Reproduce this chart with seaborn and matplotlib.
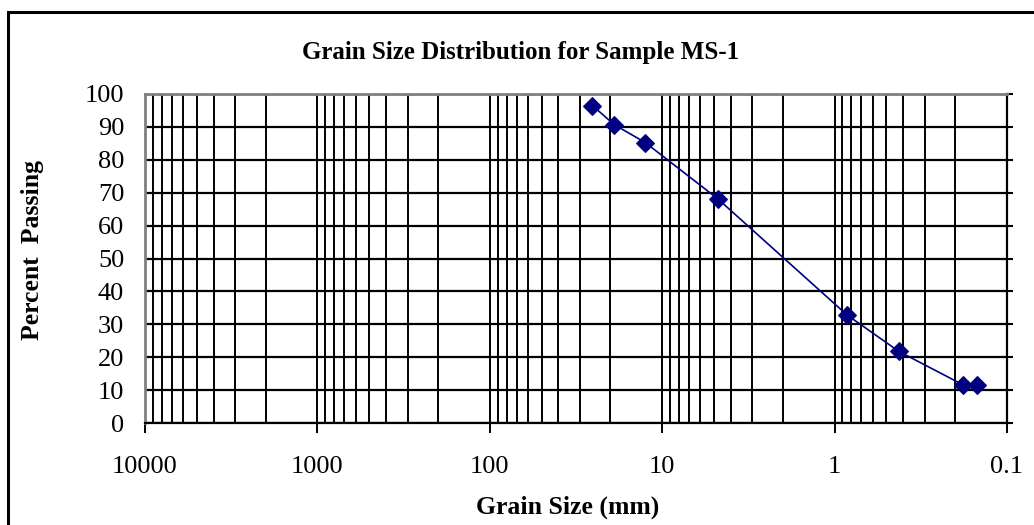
import matplotlib
matplotlib.use("Agg")
import matplotlib.pyplot as plt
import matplotlib.ticker as mticker
from matplotlib.patches import Rectangle
import seaborn as sns
import pandas as pd
import numpy as np

# ---- data ----
grain_size_mm = [25.4, 19.0, 12.5, 4.75, 0.85, 0.425, 0.18, 0.15]
percent_passing = [96.5, 90.7, 85.2, 68.1, 32.9, 21.8, 11.6, 11.6]
x_tick_values = [10000, 1000, 100, 10, 1, 0.1]
x_tick_labels = ["10000", "1000", "100", "10", "1", "0.1"]
y_tick_values = [0, 10, 20, 30, 40, 50, 60, 70, 80, 90, 100]

title = "Grain Size Distribution for Sample MS-1"
x_label = "Grain Size (mm)"
y_label = "Percent  Passing"

df = pd.DataFrame({"size": grain_size_mm, "passing": percent_passing})

sns.set_theme(style="white")
plt.rcParams["font.family"] = ["Liberation Serif", "DejaVu Serif"]

W, H = 1034, 525
fig = plt.figure(figsize=(W / 100, H / 100), dpi=100)
fig.patch.set_facecolor("white")

left, right, top, bottom = 145, 1007, 94, 423
ax = fig.add_axes([left / W, 1 - bottom / H, (right - left) / W, (bottom - top) / H])

sns.lineplot(data=df, x="size", y="passing", ax=ax, color="#000080",
             linewidth=1.2, marker="D", markersize=9, markeredgecolor="#000080",
             sort=False, zorder=5)

ax.set_xscale("log")
ax.set_xlim(10000, 0.1)
ax.set_ylim(0, 100)

ax.set_xticks(x_tick_values)
ax.set_xticklabels(x_tick_labels)
ax.xaxis.set_minor_locator(mticker.LogLocator(base=10, subs=np.arange(2, 10), numticks=100))
ax.xaxis.set_minor_formatter(mticker.NullFormatter())
ax.set_yticks(y_tick_values)
ax.set_yticklabels([str(v) for v in y_tick_values])

ax.grid(which="both", axis="x", color="black", linewidth=1.4)
ax.grid(which="major", axis="y", color="black", linewidth=1.6)
ax.set_axisbelow(True)

ax.tick_params(axis="x", which="major", bottom=True, top=False, direction="out",
               length=7, width=1.4, color="black", labelsize=19, pad=17)
ax.tick_params(axis="x", which="minor", bottom=False, top=False)
ax.tick_params(axis="y", which="major", left=False, right=True, labelleft=True,
               labelright=False, direction="out", length=4, width=1.5,
               color="black", labelsize=19, pad=11)
for lab in ax.get_xticklabels() + ax.get_yticklabels():
    lab.set_color("black")

for side in ["left", "top"]:
    ax.spines[side].set_color("#808080")
    ax.spines[side].set_linewidth(2)
for side in ["right", "bottom"]:
    ax.spines[side].set_color("black")
    ax.spines[side].set_linewidth(1.6)

ax.set_xlabel("")
ax.set_ylabel("")

fig.text(521 / W, 1 - 52 / H, title, ha="center", va="center",
         fontsize=18, fontweight="bold", color="black")
fig.text(568 / W, 1 - 507 / H, x_label, ha="center", va="center",
         fontsize=18.5, fontweight="bold", color="black")
fig.text(33 / W, 1 - 250 / H, y_label, ha="center", va="center", rotation=90,
         fontsize=18.5, fontweight="bold", color="black")

# outer chart border (cut off at right and bottom)
fig.add_artist(Rectangle((8 / W, -0.2), 1.5, 1.2 - 12 / H, transform=fig.transFigure,
                         fill=False, edgecolor="black", linewidth=2.2))

fig.savefig("out.png", dpi=100, facecolor="white")
